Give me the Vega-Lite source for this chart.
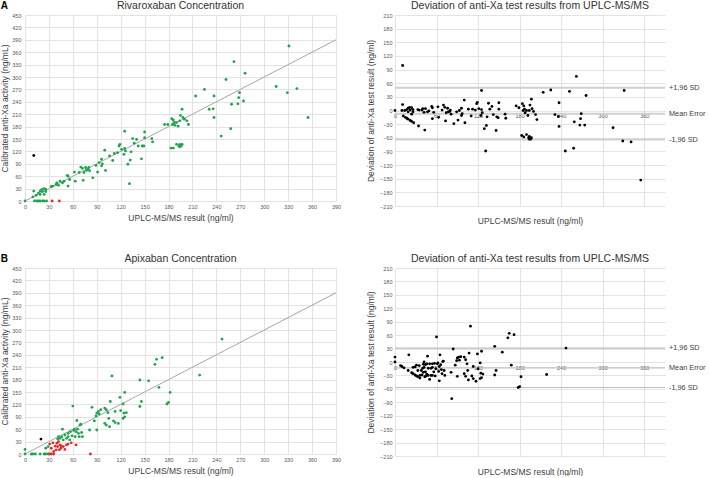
{
"$schema": "https://vega.github.io/schema/vega-lite/v6.json",
"padding": 0,
"background": "white",
"config": {
  "font": "Liberation Sans",
  "view": {"stroke": null},
  "axis": {"grid": true, "gridColor": "#dcdcdc", "gridWidth": 0.8, "domain": false, "ticks": false, "labelFontSize": 5.5, "labelColor": "#595959", "labelPadding": 3, "labelOverlap": false, "labelBound": false, "labelFlush": false, "titleFontSize": 8.5, "titleFontWeight": "normal", "titleColor": "#404040"},
  "axisQuantitative": {"labelOverlap": false},
  "title": {"fontSize": 10.5, "fontWeight": "normal", "color": "#333333", "offset": 2}
},
"datasets": {
  "diag": [{"a0": 0, "a1": 390}],
  "rivaLines": [{"label": "+1,96 SD", "val": 50}, {"label": "Mean Error", "val": -7}, {"label": "-1,96 SD", "val": -64}],
  "apixLines": [{"label": "+1,96 SD", "val": 31}, {"label": "Mean Error", "val": -13}, {"label": "-1,96 SD", "val": -57}],
  "riva": [
    {"uplc":0,"antixa":0,"dev":0,"group":"g"},
    {"uplc":11,"antixa":110,"dev":99,"group":"k"},
    {"uplc":11,"antixa":24,"dev":13,"group":"g"},
    {"uplc":10,"antixa":10,"dev":0,"group":"g"},
    {"uplc":14,"antixa":14,"dev":0,"group":"g"},
    {"uplc":12,"antixa":0,"dev":-12,"group":"g"},
    {"uplc":15,"antixa":0,"dev":-15,"group":"g"},
    {"uplc":17,"antixa":0,"dev":-17,"group":"g"},
    {"uplc":19,"antixa":0,"dev":-19,"group":"g"},
    {"uplc":22,"antixa":0,"dev":-22,"group":"g"},
    {"uplc":24,"antixa":0,"dev":-24,"group":"g"},
    {"uplc":27,"antixa":0,"dev":-27,"group":"g"},
    {"uplc":34,"antixa":0,"dev":-34,"group":"r"},
    {"uplc":43,"antixa":0,"dev":-43,"group":"r"},
    {"uplc":17,"antixa":19,"dev":2,"group":"g"},
    {"uplc":19,"antixa":24,"dev":5,"group":"g"},
    {"uplc":21,"antixa":28,"dev":7,"group":"g"},
    {"uplc":24,"antixa":30,"dev":6,"group":"g"},
    {"uplc":26,"antixa":28,"dev":2,"group":"g"},
    {"uplc":22,"antixa":23,"dev":1,"group":"g"},
    {"uplc":26,"antixa":23,"dev":-3,"group":"g"},
    {"uplc":19,"antixa":16,"dev":-3,"group":"g"},
    {"uplc":24,"antixa":16,"dev":-8,"group":"g"},
    {"uplc":33,"antixa":35,"dev":2,"group":"g"},
    {"uplc":35,"antixa":36,"dev":1,"group":"g"},
    {"uplc":39,"antixa":40,"dev":1,"group":"g"},
    {"uplc":40,"antixa":44,"dev":4,"group":"g"},
    {"uplc":42,"antixa":38,"dev":-4,"group":"g"},
    {"uplc":44,"antixa":48,"dev":4,"group":"g"},
    {"uplc":47,"antixa":44,"dev":-3,"group":"g"},
    {"uplc":49,"antixa":48,"dev":-1,"group":"g"},
    {"uplc":53,"antixa":62,"dev":9,"group":"g"},
    {"uplc":54,"antixa":60,"dev":6,"group":"g"},
    {"uplc":54,"antixa":36,"dev":-18,"group":"g"},
    {"uplc":56,"antixa":52,"dev":-4,"group":"g"},
    {"uplc":62,"antixa":70,"dev":8,"group":"g"},
    {"uplc":63,"antixa":48,"dev":-15,"group":"g"},
    {"uplc":68,"antixa":69,"dev":1,"group":"g"},
    {"uplc":70,"antixa":82,"dev":12,"group":"g"},
    {"uplc":72,"antixa":79,"dev":7,"group":"g"},
    {"uplc":73,"antixa":50,"dev":-23,"group":"g"},
    {"uplc":74,"antixa":69,"dev":-5,"group":"g"},
    {"uplc":76,"antixa":81,"dev":5,"group":"g"},
    {"uplc":77,"antixa":74,"dev":-3,"group":"g"},
    {"uplc":79,"antixa":77,"dev":-2,"group":"g"},
    {"uplc":80,"antixa":81,"dev":1,"group":"g"},
    {"uplc":81,"antixa":73,"dev":-8,"group":"g"},
    {"uplc":85,"antixa":56,"dev":-29,"group":"g"},
    {"uplc":89,"antixa":86,"dev":-3,"group":"g"},
    {"uplc":91,"antixa":70,"dev":-21,"group":"g"},
    {"uplc":93,"antixa":93,"dev":0,"group":"g"},
    {"uplc":96,"antixa":101,"dev":5,"group":"g"},
    {"uplc":97,"antixa":90,"dev":-7,"group":"g"},
    {"uplc":96,"antixa":85,"dev":-11,"group":"g"},
    {"uplc":100,"antixa":123,"dev":23,"group":"g"},
    {"uplc":101,"antixa":74,"dev":-27,"group":"g"},
    {"uplc":106,"antixa":109,"dev":3,"group":"g"},
    {"uplc":110,"antixa":98,"dev":-12,"group":"g"},
    {"uplc":112,"antixa":115,"dev":3,"group":"g"},
    {"uplc":116,"antixa":117,"dev":1,"group":"g"},
    {"uplc":118,"antixa":133,"dev":15,"group":"g"},
    {"uplc":119,"antixa":137,"dev":18,"group":"g"},
    {"uplc":121,"antixa":125,"dev":4,"group":"g"},
    {"uplc":125,"antixa":169,"dev":44,"group":"g"},
    {"uplc":125,"antixa":127,"dev":2,"group":"g"},
    {"uplc":124,"antixa":113,"dev":-11,"group":"g"},
    {"uplc":126,"antixa":121,"dev":-5,"group":"g"},
    {"uplc":129,"antixa":89,"dev":-40,"group":"g"},
    {"uplc":131,"antixa":42,"dev":-89,"group":"g"},
    {"uplc":132,"antixa":99,"dev":-33,"group":"g"},
    {"uplc":133,"antixa":119,"dev":-14,"group":"g"},
    {"uplc":135,"antixa":151,"dev":16,"group":"g"},
    {"uplc":137,"antixa":140,"dev":3,"group":"g"},
    {"uplc":140,"antixa":149,"dev":9,"group":"g"},
    {"uplc":142,"antixa":133,"dev":-9,"group":"g"},
    {"uplc":146,"antixa":102,"dev":-44,"group":"g"},
    {"uplc":147,"antixa":133,"dev":-14,"group":"g"},
    {"uplc":149,"antixa":133,"dev":-16,"group":"g"},
    {"uplc":150,"antixa":167,"dev":17,"group":"g"},
    {"uplc":150,"antixa":153,"dev":3,"group":"g"},
    {"uplc":159,"antixa":151,"dev":-8,"group":"g"},
    {"uplc":160,"antixa":143,"dev":-17,"group":"g"},
    {"uplc":175,"antixa":185,"dev":10,"group":"g"},
    {"uplc":179,"antixa":185,"dev":6,"group":"g"},
    {"uplc":184,"antixa":199,"dev":15,"group":"g"},
    {"uplc":185,"antixa":185,"dev":0,"group":"g"},
    {"uplc":186,"antixa":196,"dev":10,"group":"g"},
    {"uplc":187,"antixa":190,"dev":3,"group":"g"},
    {"uplc":188,"antixa":183,"dev":-5,"group":"g"},
    {"uplc":190,"antixa":190,"dev":0,"group":"g"},
    {"uplc":192,"antixa":181,"dev":-11,"group":"g"},
    {"uplc":194,"antixa":194,"dev":0,"group":"g"},
    {"uplc":195,"antixa":207,"dev":12,"group":"g"},
    {"uplc":197,"antixa":222,"dev":25,"group":"g"},
    {"uplc":198,"antixa":202,"dev":4,"group":"g"},
    {"uplc":200,"antixa":198,"dev":-2,"group":"g"},
    {"uplc":203,"antixa":194,"dev":-9,"group":"g"},
    {"uplc":205,"antixa":185,"dev":-20,"group":"g"},
    {"uplc":183,"antixa":128,"dev":-55,"group":"g"},
    {"uplc":186,"antixa":128,"dev":-58,"group":"g"},
    {"uplc":190,"antixa":137,"dev":-53,"group":"g"},
    {"uplc":193,"antixa":133,"dev":-60,"group":"g"},
    {"uplc":194,"antixa":137,"dev":-57,"group":"g"},
    {"uplc":196,"antixa":133,"dev":-63,"group":"g"},
    {"uplc":197,"antixa":137,"dev":-60,"group":"g"},
    {"uplc":194,"antixa":131,"dev":-63,"group":"g"},
    {"uplc":214,"antixa":254,"dev":40,"group":"g"},
    {"uplc":225,"antixa":270,"dev":45,"group":"g"},
    {"uplc":231,"antixa":222,"dev":-9,"group":"g"},
    {"uplc":237,"antixa":254,"dev":17,"group":"g"},
    {"uplc":236,"antixa":223,"dev":-13,"group":"g"},
    {"uplc":237,"antixa":202,"dev":-35,"group":"g"},
    {"uplc":246,"antixa":157,"dev":-89,"group":"g"},
    {"uplc":252,"antixa":294,"dev":42,"group":"g"},
    {"uplc":258,"antixa":175,"dev":-83,"group":"g"},
    {"uplc":259,"antixa":234,"dev":-25,"group":"g"},
    {"uplc":262,"antixa":337,"dev":75,"group":"g"},
    {"uplc":267,"antixa":235,"dev":-32,"group":"g"},
    {"uplc":268,"antixa":250,"dev":-18,"group":"g"},
    {"uplc":269,"antixa":262,"dev":-7,"group":"g"},
    {"uplc":274,"antixa":242,"dev":-32,"group":"g"},
    {"uplc":276,"antixa":309,"dev":33,"group":"g"},
    {"uplc":315,"antixa":277,"dev":-38,"group":"g"},
    {"uplc":329,"antixa":262,"dev":-67,"group":"g"},
    {"uplc":331,"antixa":375,"dev":44,"group":"g"},
    {"uplc":341,"antixa":272,"dev":-69,"group":"g"},
    {"uplc":355,"antixa":202,"dev":-153,"group":"g"}
  ],
  "apix": [
    {"uplc":0,"antixa":11,"dev":11,"group":"g"},
    {"uplc":0,"antixa":0,"dev":0,"group":"g"},
    {"uplc":8,"antixa":0,"dev":-8,"group":"g"},
    {"uplc":10,"antixa":0,"dev":-10,"group":"g"},
    {"uplc":13,"antixa":0,"dev":-13,"group":"g"},
    {"uplc":19,"antixa":0,"dev":-19,"group":"g"},
    {"uplc":24,"antixa":0,"dev":-24,"group":"g"},
    {"uplc":26,"antixa":0,"dev":-26,"group":"g"},
    {"uplc":29,"antixa":0,"dev":-29,"group":"g"},
    {"uplc":26,"antixa":14,"dev":-12,"group":"g"},
    {"uplc":29,"antixa":18,"dev":-11,"group":"g"},
    {"uplc":31,"antixa":0,"dev":-31,"group":"r"},
    {"uplc":33,"antixa":0,"dev":-33,"group":"r"},
    {"uplc":36,"antixa":0,"dev":-36,"group":"r"},
    {"uplc":82,"antixa":0,"dev":-82,"group":"r"},
    {"uplc":31,"antixa":24,"dev":-7,"group":"r"},
    {"uplc":35,"antixa":27,"dev":-8,"group":"r"},
    {"uplc":33,"antixa":14,"dev":-19,"group":"r"},
    {"uplc":38,"antixa":19,"dev":-19,"group":"r"},
    {"uplc":40,"antixa":26,"dev":-14,"group":"r"},
    {"uplc":41,"antixa":18,"dev":-23,"group":"r"},
    {"uplc":42,"antixa":30,"dev":-12,"group":"r"},
    {"uplc":44,"antixa":22,"dev":-22,"group":"r"},
    {"uplc":45,"antixa":14,"dev":-31,"group":"r"},
    {"uplc":46,"antixa":19,"dev":-27,"group":"r"},
    {"uplc":48,"antixa":18,"dev":-30,"group":"r"},
    {"uplc":50,"antixa":11,"dev":-39,"group":"r"},
    {"uplc":52,"antixa":22,"dev":-30,"group":"r"},
    {"uplc":54,"antixa":24,"dev":-30,"group":"r"},
    {"uplc":58,"antixa":27,"dev":-31,"group":"r"},
    {"uplc":64,"antixa":22,"dev":-42,"group":"r"},
    {"uplc":36,"antixa":6,"dev":-30,"group":"r"},
    {"uplc":39,"antixa":10,"dev":-29,"group":"r"},
    {"uplc":43,"antixa":10,"dev":-33,"group":"r"},
    {"uplc":20,"antixa":36,"dev":16,"group":"k"},
    {"uplc":41,"antixa":36,"dev":-5,"group":"g"},
    {"uplc":42,"antixa":42,"dev":0,"group":"g"},
    {"uplc":44,"antixa":38,"dev":-6,"group":"g"},
    {"uplc":46,"antixa":42,"dev":-4,"group":"g"},
    {"uplc":47,"antixa":60,"dev":13,"group":"g"},
    {"uplc":48,"antixa":34,"dev":-14,"group":"g"},
    {"uplc":50,"antixa":46,"dev":-4,"group":"g"},
    {"uplc":52,"antixa":38,"dev":-14,"group":"g"},
    {"uplc":54,"antixa":50,"dev":-4,"group":"g"},
    {"uplc":54,"antixa":42,"dev":-12,"group":"g"},
    {"uplc":56,"antixa":34,"dev":-22,"group":"g"},
    {"uplc":57,"antixa":54,"dev":-3,"group":"g"},
    {"uplc":59,"antixa":44,"dev":-15,"group":"g"},
    {"uplc":60,"antixa":116,"dev":56,"group":"g"},
    {"uplc":61,"antixa":57,"dev":-4,"group":"g"},
    {"uplc":62,"antixa":60,"dev":-2,"group":"g"},
    {"uplc":63,"antixa":42,"dev":-21,"group":"g"},
    {"uplc":64,"antixa":54,"dev":-10,"group":"g"},
    {"uplc":65,"antixa":81,"dev":16,"group":"g"},
    {"uplc":66,"antixa":60,"dev":-6,"group":"g"},
    {"uplc":67,"antixa":50,"dev":-17,"group":"g"},
    {"uplc":68,"antixa":42,"dev":-26,"group":"g"},
    {"uplc":69,"antixa":70,"dev":1,"group":"g"},
    {"uplc":70,"antixa":72,"dev":2,"group":"g"},
    {"uplc":71,"antixa":52,"dev":-19,"group":"g"},
    {"uplc":72,"antixa":42,"dev":-30,"group":"g"},
    {"uplc":81,"antixa":58,"dev":-23,"group":"g"},
    {"uplc":84,"antixa":113,"dev":29,"group":"g"},
    {"uplc":87,"antixa":80,"dev":-7,"group":"g"},
    {"uplc":89,"antixa":92,"dev":3,"group":"g"},
    {"uplc":90,"antixa":58,"dev":-32,"group":"g"},
    {"uplc":90,"antixa":99,"dev":9,"group":"g"},
    {"uplc":92,"antixa":103,"dev":11,"group":"g"},
    {"uplc":93,"antixa":97,"dev":4,"group":"g"},
    {"uplc":95,"antixa":107,"dev":12,"group":"g"},
    {"uplc":100,"antixa":111,"dev":11,"group":"g"},
    {"uplc":100,"antixa":74,"dev":-26,"group":"g"},
    {"uplc":102,"antixa":70,"dev":-32,"group":"g"},
    {"uplc":102,"antixa":107,"dev":5,"group":"g"},
    {"uplc":104,"antixa":100,"dev":-4,"group":"g"},
    {"uplc":105,"antixa":86,"dev":-19,"group":"g"},
    {"uplc":106,"antixa":66,"dev":-40,"group":"g"},
    {"uplc":107,"antixa":127,"dev":20,"group":"g"},
    {"uplc":109,"antixa":189,"dev":80,"group":"g"},
    {"uplc":111,"antixa":80,"dev":-31,"group":"g"},
    {"uplc":113,"antixa":76,"dev":-37,"group":"g"},
    {"uplc":113,"antixa":103,"dev":-10,"group":"g"},
    {"uplc":117,"antixa":74,"dev":-43,"group":"g"},
    {"uplc":119,"antixa":137,"dev":18,"group":"g"},
    {"uplc":120,"antixa":105,"dev":-15,"group":"g"},
    {"uplc":123,"antixa":121,"dev":-2,"group":"g"},
    {"uplc":124,"antixa":99,"dev":-25,"group":"g"},
    {"uplc":125,"antixa":149,"dev":24,"group":"g"},
    {"uplc":123,"antixa":86,"dev":-37,"group":"g"},
    {"uplc":125,"antixa":90,"dev":-35,"group":"g"},
    {"uplc":127,"antixa":100,"dev":-27,"group":"g"},
    {"uplc":144,"antixa":179,"dev":35,"group":"g"},
    {"uplc":144,"antixa":115,"dev":-29,"group":"g"},
    {"uplc":146,"antixa":127,"dev":-19,"group":"g"},
    {"uplc":155,"antixa":177,"dev":22,"group":"g"},
    {"uplc":163,"antixa":217,"dev":54,"group":"g"},
    {"uplc":165,"antixa":229,"dev":64,"group":"g"},
    {"uplc":168,"antixa":161,"dev":-7,"group":"g"},
    {"uplc":172,"antixa":233,"dev":61,"group":"g"},
    {"uplc":178,"antixa":121,"dev":-57,"group":"g"},
    {"uplc":180,"antixa":125,"dev":-55,"group":"g"},
    {"uplc":182,"antixa":149,"dev":-33,"group":"g"},
    {"uplc":219,"antixa":191,"dev":-28,"group":"g"},
    {"uplc":247,"antixa":278,"dev":31,"group":"g"}
  ]
},
"spacing": 28,
"vconcat": [
  {
    "title": {"text": "A", "anchor": "start", "fontWeight": "bold", "fontSize": 10, "color": "#000000", "offset": -10},
    "spacing": 25,
    "hconcat": [
      {
        "width": 311, "height": 186,
        "title": "Rivaroxaban Concentration",
        "layer": [
          {"data": {"name": "diag"}, "mark": {"type": "rule", "color": "#a6a6a6", "strokeWidth": 1},
           "encoding": {
             "x": {"field": "a0", "type": "quantitative", "scale": {"domain": [0, 390], "nice": false}, "axis": {"title": "UPLC-MS/MS result (ng/ml)", "values": [0,30,60,90,120,150,180,210,240,270,300,330,360,390], "labelOverlap": false, "titlePadding": 4}},
             "y": {"field": "a0", "type": "quantitative", "scale": {"domain": [0, 450], "nice": false}, "axis": {"title": "Calibrated anti-Xa activity  (ng/mL)", "values": [0,30,60,90,120,150,180,210,240,270,300,330,360,390,420,450], "labelOverlap": false, "titlePadding": 2, "labelPadding": 4}},
             "x2": {"field": "a1"}, "y2": {"field": "a1"}}},
          {"data": {"name": "riva"}, "mark": {"type": "point", "filled": true, "size": 8, "opacity": 1},
           "encoding": {
             "x": {"field": "uplc", "type": "quantitative", "axis": {"title": "UPLC-MS/MS result (ng/ml)", "values": [0,30,60,90,120,150,180,210,240,270,300,330,360,390], "labelOverlap": false, "titlePadding": 4}},
             "y": {"field": "antixa", "type": "quantitative", "axis": {"title": "Calibrated anti-Xa activity  (ng/mL)", "values": [0,30,60,90,120,150,180,210,240,270,300,330,360,390,420,450], "labelOverlap": false, "titlePadding": 2, "labelPadding": 4}},
             "color": {"field": "group", "type": "nominal", "scale": {"domain": ["g", "r", "k"], "range": ["#1ea44c", "#e52a2a", "#000000"]}, "legend": null}}}
        ]
      },
      {
        "width": 270, "height": 191,
        "title": "Deviation of anti-Xa test results from UPLC-MS/MS",
        "layer": [
          {"data": {"name": "rivaLines"}, "mark": {"type": "rule", "color": "#d0d0d0", "strokeWidth": 2},
           "encoding": {"y": {"field": "val", "type": "quantitative", "scale": {"domain": [-210, 210], "nice": false}, "axis": {"title": "Deviation of anti-Xa test result (ng/ml)", "values": [-210,-180,-150,-120,-90,-60,-30,0,30,60,90,120,150,180,210], "labelOverlap": false, "titlePadding": 4}}}},
          {"data": {"name": "rivaLines"}, "mark": {"type": "text", "align": "left", "dx": 4, "fontSize": 7.3, "color": "#404040"},
           "encoding": {"y": {"field": "val", "type": "quantitative", "axis": {"title": "Deviation of anti-Xa test result (ng/ml)", "values": [-210,-180,-150,-120,-90,-60,-30,0,30,60,90,120,150,180,210], "labelOverlap": false, "titlePadding": 4}}, "x": {"datum": 390}, "text": {"field": "label"}}},
          {"data": {"name": "riva"}, "mark": {"type": "point", "filled": true, "size": 8, "opacity": 1, "color": "#000000"},
           "encoding": {
             "x": {"field": "uplc", "type": "quantitative", "scale": {"domain": [0, 390], "nice": false}, "axis": {"title": "UPLC-MS/MS result (ng/ml)", "values": [0,30,60,90,120,150,180,210,240,270,300,330,360,390], "labelOverlap": false, "offset": -95.5, "labelPadding": 3, "titlePadding": 97}},
             "y": {"field": "dev", "type": "quantitative", "axis": {"title": "Deviation of anti-Xa test result (ng/ml)", "values": [-210,-180,-150,-120,-90,-60,-30,0,30,60,90,120,150,180,210], "labelOverlap": false, "titlePadding": 4}}}}
        ]
      }
    ]
  },
  {
    "title": {"text": "B", "anchor": "start", "fontWeight": "bold", "fontSize": 10, "color": "#000000", "offset": -10},
    "spacing": 25,
    "hconcat": [
      {
        "width": 311, "height": 186,
        "title": "Apixaban Concentration",
        "layer": [
          {"data": {"name": "diag"}, "mark": {"type": "rule", "color": "#a6a6a6", "strokeWidth": 1},
           "encoding": {
             "x": {"field": "a0", "type": "quantitative", "scale": {"domain": [0, 390], "nice": false}, "axis": {"title": "UPLC-MS/MS result (ng/ml)", "values": [0,30,60,90,120,150,180,210,240,270,300,330,360,390], "labelOverlap": false, "titlePadding": 4}},
             "y": {"field": "a0", "type": "quantitative", "scale": {"domain": [0, 450], "nice": false}, "axis": {"title": "Calibrated anti-Xa activity  (ng/mL)", "values": [0,30,60,90,120,150,180,210,240,270,300,330,360,390,420,450], "labelOverlap": false, "titlePadding": 2, "labelPadding": 4}},
             "x2": {"field": "a1"}, "y2": {"field": "a1"}}},
          {"data": {"name": "apix"}, "mark": {"type": "point", "filled": true, "size": 8, "opacity": 1},
           "encoding": {
             "x": {"field": "uplc", "type": "quantitative", "axis": {"title": "UPLC-MS/MS result (ng/ml)", "values": [0,30,60,90,120,150,180,210,240,270,300,330,360,390], "labelOverlap": false, "titlePadding": 4}},
             "y": {"field": "antixa", "type": "quantitative", "axis": {"title": "Calibrated anti-Xa activity  (ng/mL)", "values": [0,30,60,90,120,150,180,210,240,270,300,330,360,390,420,450], "labelOverlap": false, "titlePadding": 2, "labelPadding": 4}},
             "color": {"field": "group", "type": "nominal", "scale": {"domain": ["g", "r", "k"], "range": ["#1ea44c", "#e52a2a", "#000000"]}, "legend": null}}}
        ]
      },
      {
        "width": 270, "height": 188,
        "title": "Deviation of anti-Xa test results from UPLC-MS/MS",
        "layer": [
          {"data": {"name": "apixLines"}, "mark": {"type": "rule", "color": "#bdbdbd", "strokeWidth": 1.2},
           "encoding": {"y": {"field": "val", "type": "quantitative", "scale": {"domain": [-210, 210], "nice": false}, "axis": {"title": "Deviation of anti-Xa test result (ng/ml)", "values": [-210,-180,-150,-120,-90,-60,-30,0,30,60,90,120,150,180,210], "labelOverlap": false, "titlePadding": 4}}}},
          {"data": {"name": "apixLines"}, "mark": {"type": "text", "align": "left", "dx": 4, "fontSize": 7.3, "color": "#404040"},
           "encoding": {"y": {"field": "val", "type": "quantitative", "axis": {"title": "Deviation of anti-Xa test result (ng/ml)", "values": [-210,-180,-150,-120,-90,-60,-30,0,30,60,90,120,150,180,210], "labelOverlap": false, "titlePadding": 4}}, "x": {"datum": 390}, "text": {"field": "label"}}},
          {"data": {"name": "apix"}, "mark": {"type": "point", "filled": true, "size": 8, "opacity": 1, "color": "#000000"},
           "encoding": {
             "x": {"field": "uplc", "type": "quantitative", "scale": {"domain": [0, 390], "nice": false}, "axis": {"title": "UPLC-MS/MS result (ng/ml)", "values": [0,30,60,90,120,150,180,210,240,270,300,330,360,390], "labelOverlap": false, "offset": -94, "labelPadding": 3, "titlePadding": 97}},
             "y": {"field": "dev", "type": "quantitative", "axis": {"title": "Deviation of anti-Xa test result (ng/ml)", "values": [-210,-180,-150,-120,-90,-60,-30,0,30,60,90,120,150,180,210], "labelOverlap": false, "titlePadding": 4}}}}
        ]
      }
    ]
  }
]
}
